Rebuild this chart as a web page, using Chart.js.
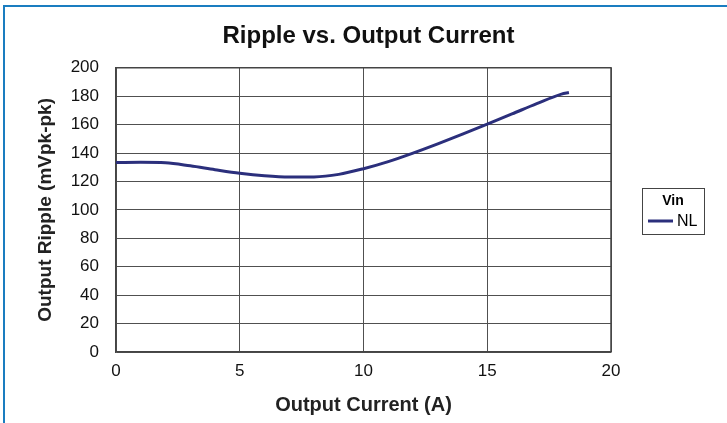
<!DOCTYPE html>
<html>
<head>
<meta charset="utf-8">
<script src="https://cdn.jsdelivr.net/npm/chart.js@4"></script>
<style>
  html, body { margin: 0; padding: 0; background: #fff; }
  #wrap { position: relative; width: 727px; height: 423px; overflow: hidden; }
  #frame { position: absolute; left: 3px; top: 5px; width: 800px; height: 600px;
           border-left: 2px solid #1a7dc0; border-top: 2px solid #1a7dc0; box-sizing: border-box; pointer-events: none; }
  canvas { position: absolute; left: 0; top: 0; }
</style>
</head>
<body>
<div id="wrap">
  <canvas id="c" width="727" height="423"></canvas>
  <div id="frame"></div>
</div>
<script>
// ---- data ----
const chartTitle = "Ripple vs. Output Current";
const xAxisTitle = "Output Current (A)";
const yAxisTitle = "Output Ripple (mVpk-pk)";
const legendTitle = "Vin";
const seriesName = "NL";
const currentA = [0, 1, 2, 3, 4, 5, 6, 7, 8, 9, 10, 11, 12, 13, 14, 15, 16, 17, 18, 18.3];
const rippleMv = [133.3, 133.5, 133.2, 131, 128.3, 125.8, 124, 123.1, 123.2, 125, 129, 134, 140, 146.5, 153.3, 160.3, 167.5, 174.8, 181.5, 182.6];
const xTicks = [0, 5, 10, 15, 20];
const yTicks = [0, 20, 40, 60, 80, 100, 120, 140, 160, 180, 200];

const lineColor = '#2b2f7c';
const fontFamily = '"Liberation Sans", Arial, Helvetica, sans-serif';

const points = currentA.map((x, i) => ({ x: x, y: rippleMv[i] }));

const legendPlugin = {
  id: 'boxLegend',
  afterDraw(chart) {
    const ctx = chart.ctx;
    const ds = chart.data.datasets[0];
    const x0 = 642, y0 = 188, w = 62, h = 46;
    ctx.save();
    ctx.strokeStyle = '#444';
    ctx.lineWidth = 1;
    ctx.strokeRect(x0 + 0.5, y0 + 0.5, w, h);
    ctx.fillStyle = '#000';
    ctx.font = 'bold 14px ' + fontFamily;
    ctx.textAlign = 'center';
    ctx.textBaseline = 'middle';
    ctx.fillText(legendTitle, x0 + w / 2, y0 + 13);
    ctx.strokeStyle = ds.borderColor;
    ctx.lineWidth = 3;
    ctx.beginPath();
    ctx.moveTo(x0 + 6, y0 + 33);
    ctx.lineTo(x0 + 31, y0 + 33);
    ctx.stroke();
    ctx.font = '16px ' + fontFamily;
    ctx.textAlign = 'left';
    ctx.fillText(ds.label, x0 + 35, y0 + 34);
    ctx.restore();
  }
};

new Chart(document.getElementById('c'), {
  type: 'line',
  data: {
    datasets: [{
      label: seriesName,
      data: points,
      borderColor: lineColor,
      backgroundColor: lineColor,
      borderWidth: 3,
      pointRadius: 0,
      cubicInterpolationMode: 'monotone',
      fill: false
    }]
  },
  options: {
    responsive: false,
    animation: false,
    devicePixelRatio: 1,
    layout: { padding: { left: 10, right: 0, top: 0, bottom: 0 } },
    plugins: {
      legend: { display: false },
      tooltip: { enabled: false },
      title: {
        display: true,
        text: chartTitle,
        color: '#111',
        font: { family: fontFamily, size: 24, weight: 'bold' },
        padding: { top: 22, bottom: 17 }
      }
    },
    scales: {
      x: {
        type: 'linear',
        min: 0, max: 20,
        afterBuildTicks(scale) { scale.ticks = xTicks.map(v => ({ value: v })); },
        afterFit(scale) { scale.height = 423 - 352; },
        grid: { color: '#505050', lineWidth: 1, drawTicks: false },
        border: { color: '#444', width: 1.5 },
        ticks: { color: '#111', padding: 9, font: { family: fontFamily, size: 17 } },
        title: {
          display: true, text: xAxisTitle, color: '#222',
          font: { family: fontFamily, size: 20, weight: 'bold' },
          padding: { top: 0, bottom: 6 }
        }
      },
      y: {
        type: 'linear',
        min: 0, max: 200,
        afterBuildTicks(scale) { scale.ticks = yTicks.map(v => ({ value: v })); },
        afterFit(scale) { scale.width = 106; },
        grid: { color: '#505050', lineWidth: 1, drawTicks: false },
        border: { color: '#444', width: 1.5 },
        ticks: { color: '#111', padding: 17, font: { family: fontFamily, size: 17 } },
        title: {
          display: true, text: yAxisTitle, color: '#222',
          font: { family: fontFamily, size: 19, weight: 'bold' },
          padding: { top: 24, bottom: 0 }
        }
      },
      yRightSpace: {
        type: 'linear',
        position: 'right',
        min: 0, max: 1,
        afterFit(scale) { scale.width = 116; },
        grid: { display: false, drawTicks: false },
        border: { display: false },
        ticks: { display: false }
      }
    }
  },
  plugins: [legendPlugin, {
    id: 'rightBorder',
    afterDraw(chart) {
      const a = chart.chartArea, ctx = chart.ctx;
      ctx.save();
      ctx.strokeStyle = '#444';
      ctx.lineWidth = 1.5;
      ctx.beginPath();
      ctx.moveTo(a.left, a.top); ctx.lineTo(a.right, a.top); ctx.lineTo(a.right, a.bottom);
      ctx.stroke();
      ctx.restore();
    }
  }]
});
</script>
</body>
</html>
